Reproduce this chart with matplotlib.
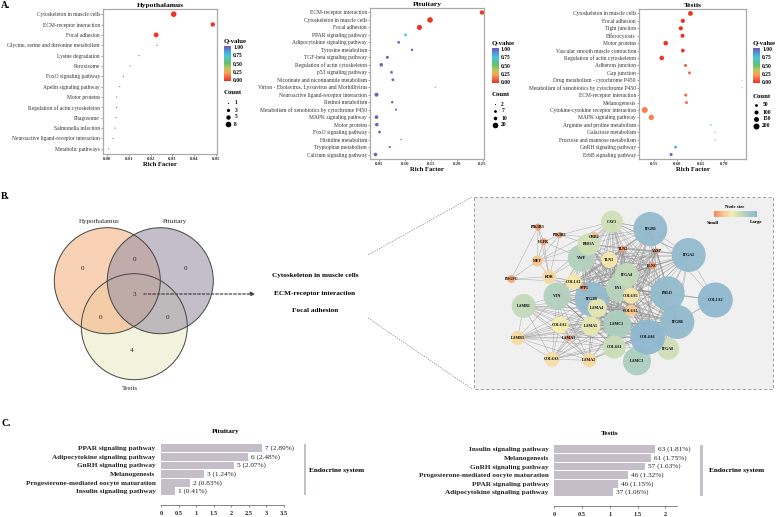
import numpy as np
import matplotlib
matplotlib.use('Agg')
import matplotlib.pyplot as plt
from matplotlib.colors import LinearSegmentedColormap
from matplotlib.patches import Circle, Rectangle

plt.rcParams['font.family'] = ['Liberation Serif', 'DejaVu Serif']

W, H = 778, 517

# panel A data
hypo_terms = ['Cytoskeleton in muscle cells', 'ECM-receptor interaction', 'Focal adhesion',
              'Glycine, serine and threonine metabolism', 'Lysine degradation', 'Peroxisome',
              'FoxO signaling pathway', 'Apelin signaling pathway', 'Motor proteins',
              'Regulation of actin cytoskeleton', 'Phagosome', 'Salmonella infection',
              'Neuroactive ligand-receptor interaction', 'Metabolic pathways']
hypo_rich = [0.0306, 0.0486, 0.0225, 0.0229, 0.0146, 0.0105, 0.0074, 0.0057, 0.0043, 0.0043,
             0.0040, 0.0035, 0.0026, 0.0006]
hypo_count = [8, 5, 6, 1, 1, 1, 1, 1, 1, 1, 1, 1, 1, 1]
hypo_q = [0.01, 0.01, 0.01, 1, 1, 1, 1, 1, 1, 1, 1, 1, 1, 1]

pit_terms = ['ECM-receptor interaction', 'Cytoskeleton in muscle cells', 'Focal adhesion',
             'PPAR signaling pathway', 'Adipocytokine signaling pathway', 'Tyrosine metabolism',
             'TGF-beta signaling pathway', 'Regulation of actin cytoskeleton', 'p53 signaling pathway',
             'Nicotinate and nicotinamide metabolism',
             'Virion - Ebolavirus, Lyssavirus and Morbillivirus',
             'Neuroactive ligand-receptor interaction', 'Retinol metabolism',
             'Metabolism of xenobiotics by cytochrome P450', 'MAPK signaling pathway', 'Motor proteins',
             'FoxO signaling pathway', 'Histidine metabolism', 'Tryptophan metabolism',
             'Calcium signaling pathway']
pit_rich = [0.2487, 0.1487, 0.1283, 0.1013, 0.0882, 0.1138, 0.0664, 0.0546, 0.0743, 0.0770,
            0.1586, 0.0454, 0.0757, 0.0829, 0.0454, 0.0460, 0.0513, 0.0928, 0.0711, 0.0434]
pit_count = [14, 20, 18, 7, 7, 6, 8, 10, 7, 7, 2, 12, 6, 5, 11, 10, 7, 3, 5, 10]
pit_q = [0.01, 0.01, 0.01, 0.72, 0.97, 0.97, 0.97, 0.97, 0.97, 0.97, 0.97, 0.97, 0.97, 0.97, 0.97,
         0.97, 0.97, 0.97, 0.97, 0.97]

testis_terms = ['Cytoskeleton in muscle cells', 'Focal adhesion', 'Tight junction', 'Efferocytosis',
                'Motor proteins', 'Vascular smooth muscle contraction', 'Regulation of actin cytoskeleton',
                'Adherens junction', 'Gap junction', 'Drug metabolism - cytochrome P450',
                'Metabolism of xenobiotics by cytochrome P450', 'ECM-receptor interaction', 'Melanogenesis',
                'Cytokine-cytokine receptor interaction', 'MAPK signaling pathway',
                'Arginine and proline metabolism', 'Galactose metabolism', 'Fructose and mannose metabolism',
                'GnRH signaling pathway', 'ErbB signaling pathway']
testis_rich = [0.628, 0.6117, 0.6074, 0.611, 0.575, 0.6117, 0.5665, 0.6174, 0.626, 0.7387, 0.7387,
               0.618, 0.6196, 0.53, 0.544, 0.672, 0.6806, 0.6806, 0.596, 0.5866]
testis_count = [140, 110, 110, 100, 130, 90, 130, 55, 55, 8, 8, 60, 60, 200, 170, 20, 15, 15, 50, 60]
testis_q = [0.0, 0.0, 0.0, 0.0, 0.01, 0.01, 0.01, 0.08, 0.1, 0.1, 0.12, 0.12, 0.14, 0.17, 0.18, 0.62,
            0.7, 0.7, 0.82, 1.0]

# panel C data
pit_bar_terms = ['PPAR signaling pathway', 'Adipocytokine signaling pathway', 'GnRH signaling pathway',
                 'Melanogenesis', 'Progesterone-mediated oocyte maturation', 'Insulin signaling pathway']
pit_bar_pct = [2.89, 2.48, 2.07, 1.24, 0.83, 0.41]
pit_bar_n = [7, 6, 5, 3, 2, 1]
testis_bar_terms = ['Insulin signaling pathway', 'Melanogenesis', 'GnRH signaling pathway',
                    'Progesterone-mediated oocyte maturation', 'PPAR signaling pathway',
                    'Adipocytokine signaling pathway']
testis_bar_pct = [1.81, 1.75, 1.63, 1.32, 1.15, 1.06]
testis_bar_n = [63, 61, 57, 46, 40, 37]

# network: name, x px, y px, radius px (drawn in this order)
nodes = [('PIK3R3', 538, 227, 3.5), ('PIK3R1', 559.7, 235, 3), ('EGFR', 543.7, 241.7, 3.5),
         ('MET', 537.3, 261, 5.5), ('PDGFC', 511.3, 279, 4), ('KDR', 549.3, 276.7, 7),
         ('CAV1', 612, 221.7, 11), ('GRB2', 593.7, 237, 5), ('VWF', 581.3, 258, 13.5),
         ('RHOA', 588.7, 244.3, 11), ('TLN2', 622.7, 249, 3.5), ('VASP', 656.7, 251, 2.5),
         ('FLNC', 652.7, 265.7, 3.5), ('TLN1', 609.3, 260, 8), ('ITGB1', 650.3, 229, 17),
         ('ITGA2', 688.7, 255, 17), ('COL1A2', 715.3, 300, 17.5), ('VTN', 557, 296, 13.5),
         ('ITG2B', 591.7, 299, 17), ('COL1A1', 573.7, 281.7, 8), ('SPP1', 584, 287.7, 3),
         ('FN1', 619, 288.3, 13), ('ITGA4', 626.7, 275, 12), ('PHLD', 667.7, 293.3, 17),
         ('COL6A5', 631, 295.7, 8), ('LAMB1', 523.7, 306, 12), ('COL6A2', 560, 325, 8.5),
         ('LAMA4', 597.3, 308, 9.5), ('LAMC1', 617.3, 324, 14), ('COL6A1', 631, 310.7, 6),
         ('LAMA5', 591, 326, 9.5), ('LAMB3', 517.7, 338, 7), ('LAMA1', 568.7, 338, 3),
         ('COL4A1', 614.3, 347, 11.5), ('COL6A3', 552, 359.3, 7.5), ('LAMA2', 589.3, 360.3, 7),
         ('ITGA8', 668.3, 348.7, 11), ('LAMC3', 637, 361.3, 14), ('ITGB6', 677.3, 322, 17),
         ('COL4A6', 647.7, 337, 17.5)]

core_nodes = ['ITGB1', 'ITGA2', 'PHLD', 'ITGB6', 'COL4A6', 'ITG2B', 'VWF', 'VTN', 'COL1A1', 'SPP1', 'FN1',
              'ITGA4', 'COL6A5', 'COL6A1', 'LAMA4', 'LAMA5', 'LAMC1', 'COL4A1', 'TLN1', 'FLNC', 'TLN2',
              'VASP', 'RHOA', 'CAV1', 'ITGA8']
laminin_nodes = ['LAMB1', 'LAMB3', 'COL6A2', 'LAMA1', 'COL6A3', 'LAMA2', 'LAMA4', 'LAMA5', 'LAMC1',
                 'COL4A1', 'COL6A1', 'COL4A6', 'ITGB6', 'ITG2B', 'VTN']
extra_edges = [('PIK3R3', 'MET'), ('PIK3R3', 'EGFR'), ('PIK3R3', 'PDGFC'), ('PIK3R3', 'KDR'),
               ('PIK3R1', 'EGFR'), ('PIK3R1', 'MET'), ('PIK3R1', 'KDR'), ('PIK3R1', 'RHOA'),
               ('PIK3R1', 'CAV1'), ('PIK3R1', 'GRB2'), ('EGFR', 'MET'), ('EGFR', 'KDR'), ('EGFR', 'VWF'),
               ('MET', 'PDGFC'), ('MET', 'KDR'), ('MET', 'RHOA'), ('MET', 'TLN1'), ('MET', 'CAV1'),
               ('PDGFC', 'KDR'), ('PDGFC', 'COL1A1'), ('KDR', 'VWF'), ('KDR', 'COL1A1'), ('KDR', 'RHOA'),
               ('KDR', 'FN1'), ('KDR', 'ITG2B'), ('GRB2', 'CAV1'), ('GRB2', 'RHOA'), ('GRB2', 'ITGB1'),
               ('CAV1', 'ITGB1'), ('CAV1', 'ITGA2'), ('ITGA2', 'COL1A2'), ('ITGB1', 'COL1A2'),
               ('PHLD', 'COL1A2'), ('ITGB6', 'COL1A2'), ('COL4A6', 'COL1A2'), ('FN1', 'COL1A2'),
               ('COL1A1', 'COL1A2'), ('ITGA8', 'ITGB6'), ('LAMC3', 'COL4A6'), ('LAMC3', 'LAMC1'),
               ('LAMC3', 'ITGB6'), ('LAMC3', 'LAMA5'), ('LAMB1', 'VTN'), ('LAMB1', 'LAMB3'),
               ('LAMB1', 'COL6A3'), ('LAMB3', 'COL6A3')]


def ax_px(fig, x0, y0, x1, y1):
    # axes from picture pixels (y downwards)
    return fig.add_axes([x0 / W, 1 - y1 / H, (x1 - x0) / W, (y1 - y0) / H])


q_cmap = LinearSegmentedColormap.from_list(
    'q', [(0, '#ee3124'), (0.12, '#f26b43'), (0.25, '#f7a35c'), (0.38, '#b5c95a'), (0.5, '#6cc06a'),
          (0.62, '#52c4a0'), (0.72, '#4fc6d6'), (0.84, '#42a5e0'), (1, '#7b55b5')])
size_cmap = LinearSegmentedColormap.from_list(
    'size', ['#ee8a62', '#f8c48e', '#f5eeb0', '#c9ddb8', '#a8cbc3', '#8fb8d0'])

fig = plt.figure(figsize=(W / 100, H / 100), dpi=100)

# overlay in pixel coordinates for the venn, labels and legends
over = fig.add_axes([0, 0, 1, 1], zorder=5)
over.set_xlim(0, W)
over.set_ylim(H, 0)
over.axis('off')
over.patch.set_alpha(0)


def dot_panel(box, title, terms, rich, count, q, xlim, xticks, size_keys, size_r, cnt_keys, legend):
    ax = ax_px(fig, *box)
    y = np.arange(len(terms))
    r = np.interp(count, size_keys, size_r)
    ax.scatter(rich, y, s=(2 * r * 0.72) ** 2, c=q, cmap=q_cmap, vmin=0, vmax=1, linewidths=0, zorder=3)
    ax.set_xlim(*xlim)
    ax.set_ylim(len(terms) - 1 + legend['pad'], -legend['pad'])
    ax.set_yticks(y)
    ax.set_yticklabels(terms, fontsize=4, color='#333333')
    ax.set_xticks(xticks)
    ax.set_xticklabels(['%.2f' % t for t in xticks], fontsize=3.5, fontweight='bold', color='#333333')
    ax.tick_params(length=1.2, width=0.4, pad=1, color='#555555')
    for s in ax.spines.values():
        s.set_color('#aaaaaa')
        s.set_linewidth(0.9)
    ax.set_title(title, fontsize=5.4, fontweight='bold', pad=1.5)
    ax.set_xlabel('Rich Factor', fontsize=4.8, fontweight='bold', labelpad=1)

    # colour bar
    cx0, cy0, cx1, cy1 = legend['bar']
    cax = ax_px(fig, cx0, cy0, cx1, cy1)
    cax.imshow(np.linspace(1, 0, 200)[:, None], aspect='auto', cmap=q_cmap, vmin=0, vmax=1, extent=[0, 1, 0, 1])
    cax.set_xticks([])
    cax.yaxis.tick_right()
    cax.set_yticks([0.04, 0.27, 0.5, 0.73, 0.96])
    cax.set_yticklabels(['0.00', '0.25', '0.50', '0.75', '1.00'], fontsize=4, fontweight='bold')
    cax.tick_params(length=0, pad=1.5)
    for s in cax.spines.values():
        s.set_visible(False)
    over.text(cx0, cy0 - 5, 'Q-value', fontsize=4.9, fontweight='bold', va='center')
    over.text(cx0, legend['count_y'], 'Count', fontsize=4.9, fontweight='bold', va='center')
    for key, ky in zip(cnt_keys, legend['ys']):
        kr = np.interp(key, size_keys, size_r)
        over.scatter([legend['dot_x']], [ky], s=(2 * kr * 0.72) ** 2, c='black', linewidths=0)
        over.text(legend['dot_x'] + 6.3, ky, str(key), fontsize=4, fontweight='bold', va='center')
    return ax


dot_panel((103, 9, 217.3, 154), 'Hypothalamus', hypo_terms, hypo_rich, hypo_count, hypo_q,
          (-0.002, 0.0507), [0, 0.01, 0.02, 0.03, 0.04, 0.05], [1, 3, 5, 8], [0.6, 1.6, 2.2, 2.8], [1, 3, 5, 8],
          dict(pad=0.5, bar=(224, 46, 231, 81), count_y=93, ys=[103, 110, 116.5, 124], dot_x=228))
dot_panel((370, 8, 484, 159), 'Pituitary', pit_terms, pit_rich, pit_count, pit_q,
          (0.0329, 0.2527), [0.05, 0.10, 0.15, 0.20, 0.25], [2, 7, 10, 20], [0.55, 1.4, 1.8, 2.8], [2, 7, 10, 20],
          dict(pad=0.6, bar=(492, 48, 498.5, 83), count_y=95, ys=[104, 111, 118, 125], dot_x=495))
dot_panel((639, 9, 746, 159), 'Testis', testis_terms, testis_rich, testis_count, testis_q,
          (0.5177, 0.7472), [0.55, 0.60, 0.65, 0.70], [8, 50, 100, 150, 200], [0.5, 1.4, 2.0, 2.5, 3.0],
          [50, 100, 150, 200],
          dict(pad=0.6, bar=(753, 48, 760, 83), count_y=96, ys=[105, 112, 119, 125.5], dot_x=756))

for lab, ly in zip(['A.', 'B.', 'C.'], [6, 196.7, 423]):
    over.text(1, ly, lab, fontsize=7, fontweight='bold', va='center')

# venn
venn = [(134.3, 326.7, '#e9ecc6'), (107.3, 280.7, '#f5b586'), (160.3, 280.7, '#9c93a5')]
for cx, cy, col in venn:
    over.add_patch(Circle((cx, cy), 53, fc=col, ec='none', alpha=0.6))
for cx, cy, col in venn:
    over.add_patch(Circle((cx, cy), 53, fc='none', ec='#444444', lw=0.7))
for name, tx, ty in [('Hypothalamus', 99.7, 221.7), ('Pituitary', 175, 221.7), ('Testis', 129.7, 388.5)]:
    over.text(tx, ty, name, fontsize=5, ha='center', va='center', color='#222222')
for val, tx, ty in [(0, 82.7, 268.7), (0, 134.3, 259.3), (0, 185.3, 268.7), (3, 134, 294.3), (0, 100.3, 317.7),
                    (0, 167.7, 317.7), (4, 132, 350.7)]:
    over.text(tx, ty, str(val), fontsize=5, ha='center', va='center', color='#222222')
over.annotate('', xy=(258, 294), xytext=(141, 294),
              arrowprops=dict(arrowstyle='-|>', ls=(0, (2, 1.6)), lw=0.9, color='#444444', mutation_scale=6))

for name, ty in [('Cytoskeleton in muscle cells', 276), ('ECM-receptor interaction', 293.7), ('Focal adhesion', 310.7)]:
    over.text(315, ty, name, fontsize=5.2, fontweight='bold', ha='center', va='center')
over.plot([368, 472], [255, 197], ls=(0, (2.5, 2)), lw=0.4, color='#666666')
over.plot([368, 472], [318, 389], ls=(0, (2.5, 2)), lw=0.4, color='#666666')

# network panel
over.add_patch(Rectangle((474.5, 197), 298.5, 192, fc='#f0f0f0', ec='#999999', lw=0.7, ls=(0, (3, 2.5))))
pos = {n[0]: n for n in nodes}
edges = set(extra_edges)
for group in (core_nodes, laminin_nodes):
    for i, a in enumerate(group):
        for b in group[i + 1:]:
            edges.add((a, b))
for a, b in edges:
    over.plot([pos[a][1], pos[b][1]], [pos[a][2], pos[b][2]], color='#8c8c8c', lw=0.3, alpha=0.8, zorder=2)
for name, nx, ny, nr in nodes:
    over.add_patch(Circle((nx, ny), nr, fc=size_cmap((nr - 2.5) / 15), ec='none', alpha=0.95, zorder=3))
    over.text(nx, ny, name, fontsize=2.9, fontweight='bold', ha='center', va='center', zorder=4)
over.imshow(np.linspace(0, 1, 100)[None, :], cmap=size_cmap, aspect='auto', extent=[713.7, 756, 216.7, 211], zorder=3)
over.set_xlim(0, W)
over.set_ylim(H, 0)
over.text(735, 206.5, 'Node size', fontsize=3.4, fontweight='bold', ha='center', va='center')
over.text(712.5, 222.5, 'Small', fontsize=3.6, fontweight='bold', ha='center', va='center')
over.text(756, 222.5, 'Large', fontsize=3.6, fontweight='bold', ha='center', va='center')


def bar_panel(box, terms, pct, n, title, title_xy, xlim, xticks, ticklabs, side, label_x, y_first, step):
    ax = ax_px(fig, *box)
    y = np.arange(len(terms))
    ax.barh(y, pct, height=0.9, color='#c5bdc8')
    for yy, p, k in zip(y, pct, n):
        ax.text(p + 3 / ((box[2] - box[0]) / (xlim[1] - xlim[0])), yy, '%d (%.2f%%)' % (k, p),
                fontsize=5.2, va='center', color='#222222')
    ax.set_xlim(*xlim)
    ax.set_ylim((box[3] - y_first) / step, (box[1] - y_first) / step)
    ax.set_yticks(y)
    ax.set_yticklabels(terms, fontsize=5.2, fontweight='bold', color='#222222')
    ax.tick_params(axis='y', length=0, pad=4)
    ax.set_xticks(xticks)
    ax.set_xticklabels(ticklabs, fontsize=4.6, fontweight='bold', color='#222222')
    ax.tick_params(axis='x', length=1.5, width=0.5, pad=2.5, color='#555555')
    for s in ['top', 'left', 'right']:
        ax.spines[s].set_visible(False)
    ax.spines['bottom'].set_linewidth(0.5)
    ax.spines['bottom'].set_color('#555555')
    ax.patch.set_alpha(0)
    over.text(title_xy[0], title_xy[1], title, fontsize=5.2, fontweight='bold', ha='center', va='center')
    over.add_patch(Rectangle((side[0], side[1]), side[2] - side[0], side[3] - side[1], fc='#c5bdc8', ec='none'))
    over.text(label_x, 470.3, 'Endocrine system', fontsize=5.2, fontweight='bold', va='center')


bar_panel((161, 444, 283.6, 505), pit_bar_terms, pit_bar_pct, pit_bar_n, 'Pituitary', (225.7, 431.7),
          (0, 3.5), [0, 0.5, 1, 1.5, 2, 2.5, 3, 3.5], ['0', '0.5', '1', '1.5', '2', '2.5', '3', '3.5'],
          (303.7, 444, 306.5, 495), 309, 448.3, 8.6)
bar_panel((554.3, 445, 677, 506), testis_bar_terms, testis_bar_pct, testis_bar_n, 'Testis', (609.7, 433.3),
          (0, 2.21), [0, 0.5, 1, 1.5, 2], ['0', '0.5', '1', '1.5', '2'],
          (700.3, 445, 703.3, 496), 709.3, 449.3, 8.6)

fig.savefig('out.png', dpi=100)
